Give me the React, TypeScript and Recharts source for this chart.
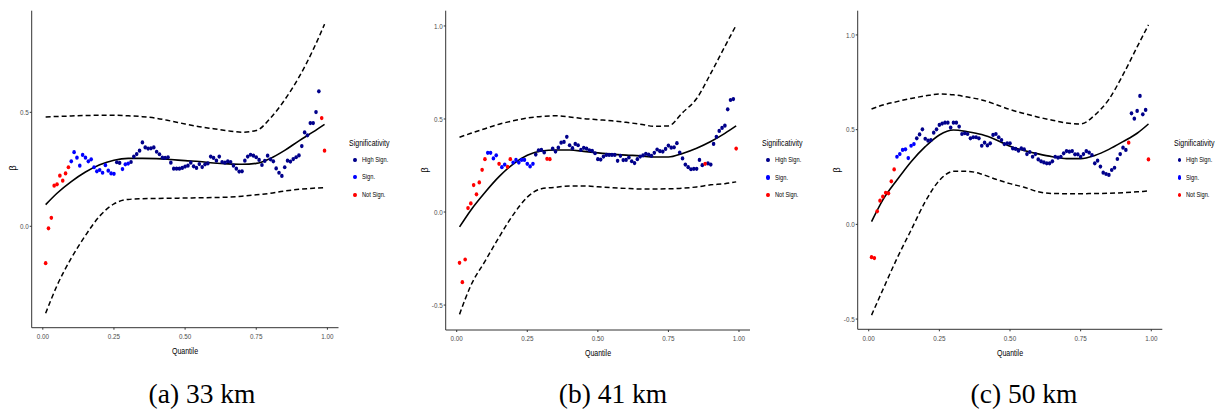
import React from "react";
import { ComposedChart, Line, Scatter, XAxis, YAxis } from "recharts";

// quantile grid of the estimated coefficients
const QUANTILES = [
  0.01, 0.02, 0.03, 0.04, 0.05, 0.06, 0.07, 0.08, 0.09, 0.1,
  0.11, 0.12, 0.13, 0.14, 0.15, 0.16, 0.17, 0.18, 0.19, 0.2,
  0.21, 0.22, 0.23, 0.24, 0.25, 0.26, 0.27, 0.28, 0.29, 0.3,
  0.31, 0.32, 0.33, 0.34, 0.35, 0.36, 0.37, 0.38, 0.39, 0.4,
  0.41, 0.42, 0.43, 0.44, 0.45, 0.46, 0.47, 0.48, 0.49, 0.5,
  0.51, 0.52, 0.53, 0.54, 0.55, 0.56, 0.57, 0.58, 0.59, 0.6,
  0.61, 0.62, 0.63, 0.64, 0.65, 0.66, 0.67, 0.68, 0.69, 0.7,
  0.71, 0.72, 0.73, 0.74, 0.75, 0.76, 0.77, 0.78, 0.79, 0.8,
  0.81, 0.82, 0.83, 0.84, 0.85, 0.86, 0.87, 0.88, 0.89, 0.9,
  0.91, 0.92, 0.93, 0.94, 0.95, 0.96, 0.97, 0.98, 0.99,
];

// x positions where the smooth fit and the bands were read
const CURVE_Q = [
  0.01, 0.05, 0.1, 0.15, 0.2, 0.25, 0.3, 0.35, 0.4, 0.45, 0.5,
  0.55, 0.6, 0.65, 0.7, 0.75, 0.8, 0.85, 0.9, 0.95, 0.99,
];

const X_TICKS = [0, 0.25, 0.5, 0.75, 1];

// H = High Sign., S = Sign., N = Not Sign. (one letter per quantile)
const SIG_A =
  "NNNNNNNNNS SSSSSSSSSS SSSSSHHSSS HHHHHHHHHH HHHHHHHHHH " +
  "HHHHHHHHHH HHHHHHHHHH HHHHHHHHHH HHHHHHHHHH HHHHHHHNN";
const SIG_B =
  "NNNNNNNNNN SSSSNSSNNS SSSSSSSHHH HNNHHHHHHH HHHHHHHHHH " +
  "HHHHHHHHHH HHHHHHHHHH HHHHHHHHHH HHHHHHHNHH HHHHHHHHN";
const SIG_C =
  "NNNNNNNNNS SSSSSSHHHH HHHHHHHHHH HHHHHHHHHH HHHHHHHHHH " +
  "HHHHHHHHHH HHHHHHHHHH HHHHHHHHHH HHHHHHHHHH HNHHHHHHN";

// (a) 33 km
const BETA_A = [
  -0.162, -0.009, 0.037, 0.178, 0.184, 0.222, 0.2, 0.232, 0.259, 0.285,
  0.325, 0.301, 0.266, 0.313, 0.301, 0.285, 0.294, 0.259, 0.241, 0.247,
  0.235, 0.268, 0.244, 0.232, 0.23, 0.281, 0.278, 0.251, 0.272, 0.275,
  0.282, 0.306, 0.317, 0.332, 0.368, 0.346, 0.341, 0.342, 0.346, 0.327,
  0.316, 0.301, 0.3, 0.303, 0.279, 0.253, 0.253, 0.253, 0.256, 0.262,
  0.266, 0.279, 0.263, 0.256, 0.273, 0.26, 0.272, 0.276, 0.306, 0.3,
  0.288, 0.306, 0.282, 0.279, 0.285, 0.282, 0.266, 0.253, 0.24, 0.241,
  0.288, 0.306, 0.314, 0.31, 0.303, 0.291, 0.269, 0.287, 0.31, 0.294,
  0.285, 0.254, 0.235, 0.221, 0.259, 0.288, 0.284, 0.295, 0.303, 0.311,
  0.352, 0.412, 0.399, 0.453, 0.453, 0.501, 0.592, 0.475, 0.332,
];
const FIT_A = [0.095, 0.145, 0.196, 0.238, 0.27, 0.29, 0.298, 0.298, 0.297, 0.293, 0.288, 0.284, 0.278, 0.274, 0.272, 0.276, 0.298, 0.333, 0.375, 0.414, 0.447];
const UPPER_A = [0.48, 0.482, 0.484, 0.486, 0.487, 0.487, 0.485, 0.481, 0.474, 0.462, 0.449, 0.437, 0.428, 0.419, 0.413, 0.42, 0.475, 0.555, 0.654, 0.775, 0.887];
const LOWER_A = [-0.382, -0.26, -0.14, -0.04, 0.045, 0.098, 0.118, 0.121, 0.122, 0.123, 0.124, 0.125, 0.126, 0.128, 0.132, 0.138, 0.145, 0.155, 0.162, 0.167, 0.17];

// (b) 41 km
const BETA_B = [
  -0.273, -0.377, -0.255, 0.021, 0.046, 0.145, 0.095, 0.159, 0.227, 0.284,
  0.318, 0.318, 0.288, 0.305, 0.259, 0.241, 0.255, 0.243, 0.284, 0.266,
  0.28, 0.266, 0.28, 0.28, 0.259, 0.245, 0.259, 0.309, 0.332, 0.334,
  0.32, 0.286, 0.284, 0.341, 0.325, 0.346, 0.373, 0.377, 0.404, 0.359,
  0.343, 0.366, 0.359, 0.334, 0.345, 0.341, 0.332, 0.329, 0.316, 0.284,
  0.282, 0.298, 0.307, 0.307, 0.307, 0.307, 0.275, 0.302, 0.279, 0.28,
  0.293, 0.273, 0.263, 0.284, 0.298, 0.304, 0.313, 0.309, 0.302, 0.318,
  0.336, 0.327, 0.325, 0.339, 0.357, 0.346, 0.348, 0.37, 0.32, 0.288,
  0.255, 0.241, 0.23, 0.232, 0.232, 0.28, 0.252, 0.259, 0.261, 0.255,
  0.366, 0.404, 0.436, 0.452, 0.464, 0.552, 0.602, 0.607, 0.341,
];
const FIT_B = [-0.08, 0.01, 0.105, 0.19, 0.258, 0.305, 0.328, 0.333, 0.333, 0.326, 0.318, 0.311, 0.306, 0.302, 0.296, 0.296, 0.315, 0.343, 0.379, 0.423, 0.463];
const UPPER_B = [0.402, 0.423, 0.448, 0.472, 0.49, 0.505, 0.514, 0.517, 0.511, 0.502, 0.496, 0.49, 0.482, 0.472, 0.461, 0.463, 0.534, 0.61, 0.745, 0.89, 1.004];
const LOWER_B = [-0.55, -0.395, -0.265, -0.135, -0.015, 0.08, 0.125, 0.133, 0.14, 0.14, 0.136, 0.131, 0.127, 0.124, 0.124, 0.125, 0.128, 0.135, 0.146, 0.152, 0.162];

// (c) 50 km
const BETA_C = [
  -0.173, -0.178, 0.069, 0.125, 0.146, 0.167, 0.164, 0.227, 0.29, 0.357,
  0.371, 0.393, 0.396, 0.35, 0.415, 0.424, 0.454, 0.475, 0.502, 0.452,
  0.442, 0.445, 0.484, 0.502, 0.525, 0.532, 0.537, 0.537, 0.511, 0.537,
  0.537, 0.516, 0.477, 0.481, 0.477, 0.454, 0.46, 0.46, 0.454, 0.415,
  0.431, 0.417, 0.428, 0.472, 0.477, 0.46, 0.445, 0.424, 0.428, 0.428,
  0.401, 0.398, 0.389, 0.401, 0.396, 0.371, 0.382, 0.357, 0.371, 0.343,
  0.333, 0.327, 0.322, 0.322, 0.333, 0.357, 0.352, 0.357, 0.375, 0.387,
  0.384, 0.387, 0.37, 0.37, 0.357, 0.371, 0.387, 0.379, 0.366, 0.322,
  0.336, 0.305, 0.273, 0.266, 0.261, 0.287, 0.299, 0.345, 0.371, 0.405,
  0.393, 0.431, 0.586, 0.558, 0.599, 0.678, 0.581, 0.604, 0.343,
];
const FIT_C = [0.014, 0.129, 0.234, 0.331, 0.41, 0.472, 0.498, 0.489, 0.474, 0.447, 0.412, 0.39, 0.372, 0.357, 0.347, 0.347, 0.364, 0.396, 0.437, 0.481, 0.53];
const UPPER_C = [0.609, 0.63, 0.648, 0.665, 0.678, 0.688, 0.684, 0.672, 0.657, 0.633, 0.606, 0.585, 0.566, 0.55, 0.535, 0.53, 0.577, 0.66, 0.79, 0.937, 1.053];
const LOWER_C = [-0.479, -0.345, -0.18, -0.03, 0.12, 0.232, 0.28, 0.28, 0.265, 0.238, 0.215, 0.196, 0.172, 0.163, 0.162, 0.162, 0.163, 0.164, 0.167, 0.172, 0.176];

const SIG_LEVELS = [
  { code: "H", label: "High Sign.", color: "#00008B" },
  { code: "S", label: "Sign.", color: "#0000FF" },
  { code: "N", label: "Not Sign.", color: "#FF0000" },
];

// no narrow face installed: squeeze Liberation Sans horizontally instead
const SANS = "'Liberation Sans', Arial, sans-serif";
const SQUEEZE = 0.8;
const CHART_H = 370;
const X_DOMAIN: [number, number] = [-0.039, 1.039];
const AXIS_COLOR = "#333333";
const TICK_FILL = "#4D4D4D";
const TICK_SIZE = 7.7;

type Geometry = {
  left: number;
  width: number;
  plotLeft: number;
  plotRight: number;
  top: number;
  bottom: number;
  yDomain: [number, number];
  yTicks: number[];
  legendX: number;
  legendY: number;
  betaX: number;
  betaY: number;
  titleY: number;
  captionX: number;
};

const PANELS = [
  {
    caption: "(a) 33 km",
    beta: BETA_A, sig: SIG_A, fit: FIT_A, upper: UPPER_A, lower: LOWER_A,
    geo: {
      left: 0, width: 405, plotLeft: 31.7, plotRight: 338.5, top: 10.7, bottom: 327.7,
      yDomain: [-0.445, 0.946], yTicks: [0, 0.5],
      legendX: 349.3, legendY: 143, betaX: 13.3, betaY: 168.3, titleY: 351, captionX: 202,
    } as Geometry,
  },
  {
    caption: "(b) 41 km",
    beta: BETA_B, sig: SIG_B, fit: FIT_B, upper: UPPER_B, lower: LOWER_B,
    geo: {
      left: 405, width: 410, plotLeft: 445.7, plotRight: 750, top: 10.7, bottom: 330,
      yDomain: [-0.634, 1.082], yTicks: [-0.5, 0, 0.5, 1],
      legendX: 762.3, legendY: 143.3, betaX: 425, betaY: 170, titleY: 353.3, captionX: 613,
    } as Geometry,
  },
  {
    caption: "(c) 50 km",
    beta: BETA_C, sig: SIG_C, fit: FIT_C, upper: UPPER_C, lower: LOWER_C,
    geo: {
      left: 815, width: 402, plotLeft: 857.7, plotRight: 1162.3, top: 10.7, bottom: 329.3,
      yDomain: [-0.554, 1.128], yTicks: [-0.5, 0, 0.5, 1],
      legendX: 1174, legendY: 143.3, betaX: 836.7, betaY: 170, titleY: 353.3, captionX: 1024,
    } as Geometry,
  },
];

function groupBySig(values: number[], sig: string) {
  const codes = sig.replace(/\s/g, "");
  const groups: Record<string, { q: number; v: number }[]> = { H: [], S: [], N: [] };
  values.forEach((v, i) => groups[codes[i]].push({ q: QUANTILES[i], v }));
  return groups;
}

function toCurve(values: number[]) {
  return CURVE_Q.map((q, i) => ({ q, v: values[i] }));
}

function dotShape(color: string) {
  return function Dot(props: any) {
    const { cx, cy } = props;
    if (cx == null || cy == null) return null;
    return <ellipse cx={cx} cy={cy} rx={1.8} ry={2.1} fill={color} />;
  };
}

function NarrowTick(props: any) {
  const { x, y, payload, textAnchor, axis } = props;
  const label = axis === "x" ? payload.value.toFixed(2) : payload.value.toFixed(1);
  return (
    <text
      x={0}
      y={0}
      transform={`translate(${x},${y}) scale(0.82,1)`}
      textAnchor={textAnchor}
      dy={axis === "x" ? "0.71em" : "0.355em"}
      fill={TICK_FILL}
      fontSize={TICK_SIZE}
      fontFamily={SANS}
    >
      {label}
    </text>
  );
}

const squeezed = (extra: React.CSSProperties, sx = SQUEEZE): React.CSSProperties => ({
  position: "absolute",
  fontFamily: SANS,
  color: "#000",
  whiteSpace: "nowrap",
  transformOrigin: "left center",
  transform: `scaleX(${sx})`,
  ...extra,
});

function SigLegend({ x, y }: { x: number; y: number }) {
  return (
    <div style={{ position: "absolute", left: 0, top: 0 }}>
      <div style={squeezed({ left: x, top: y - 7, lineHeight: "14px", fontSize: 9 }, 0.78)}>
        Significativity
      </div>
      {SIG_LEVELS.map((lvl, i) => {
        const cy = y + 16.8 + i * 17.4;
        return (
          <React.Fragment key={lvl.code}>
            <div
              style={{
                position: "absolute", left: x + 5.5 - 1.8, top: cy - 2.1,
                width: 3.6, height: 4.2, borderRadius: "50%", background: lvl.color,
              }}
            />
            <div style={squeezed({ left: x + 12.3, top: cy - 6, lineHeight: "12px", fontSize: 7.4 }, 0.77)}>
              {lvl.label}
            </div>
          </React.Fragment>
        );
      })}
    </div>
  );
}

function Panel({ panel }: { panel: (typeof PANELS)[number] }) {
  const g = panel.geo;
  const groups = groupBySig(panel.beta, panel.sig);
  const xAxisH = 30;
  const margin = {
    top: g.top,
    right: g.left + g.width - g.plotRight,
    bottom: CHART_H - g.bottom - xAxisH,
    left: 0,
  };
  const lineCommon = {
    dataKey: "v",
    type: "monotone" as const,
    stroke: "#000",
    dot: false,
    activeDot: false,
    isAnimationActive: false,
  };
  const midX = (g.plotLeft + g.plotRight) / 2;

  return (
    <>
      <div style={{ position: "absolute", left: g.left, top: 0 }}>
        <ComposedChart width={g.width} height={CHART_H} margin={margin}>
          <XAxis
            type="number"
            dataKey="q"
            domain={X_DOMAIN}
            ticks={X_TICKS}
            interval={0}
            allowDataOverflow
            height={xAxisH}
            tick={<NarrowTick axis="x" />}
            tickSize={2}
            tickMargin={4}
            axisLine={{ stroke: AXIS_COLOR }}
            tickLine={{ stroke: AXIS_COLOR }}
          />
          <YAxis
            type="number"
            dataKey="v"
            domain={g.yDomain}
            ticks={g.yTicks}
            interval={0}
            allowDataOverflow
            width={g.plotLeft - g.left}
            tick={<NarrowTick axis="y" />}
            tickSize={2}
            tickMargin={1}
            axisLine={{ stroke: AXIS_COLOR }}
            tickLine={{ stroke: AXIS_COLOR }}
          />
          {SIG_LEVELS.map((lvl) => (
            <Scatter
              key={lvl.code}
              name={lvl.label}
              data={groups[lvl.code]}
              dataKey="v"
              fill={lvl.color}
              shape={dotShape(lvl.color)}
              isAnimationActive={false}
            />
          ))}
          <Line {...lineCommon} data={toCurve(panel.upper)} strokeWidth={1.5} strokeDasharray="5 3" />
          <Line {...lineCommon} data={toCurve(panel.lower)} strokeWidth={1.5} strokeDasharray="5 3" />
          <Line {...lineCommon} data={toCurve(panel.fit)} strokeWidth={1.6} />
        </ComposedChart>
      </div>

      <div
        style={{
          position: "absolute", left: midX - 50, width: 100, top: g.titleY - 7,
          lineHeight: "14px", textAlign: "center", fontSize: 9, fontFamily: SANS,
          color: "#000", transform: "scaleX(0.78)",
        }}
      >
        Quantile
      </div>
      <div
        style={{
          position: "absolute", left: g.betaX - 10, top: g.betaY - 7, width: 20,
          lineHeight: "14px", textAlign: "center", transform: "rotate(-90deg)",
          fontSize: 9.5, fontFamily: SANS, color: "#000",
        }}
      >
        β
      </div>
      <SigLegend x={g.legendX} y={g.legendY} />
      <div
        style={{
          position: "absolute", left: g.captionX - 100, width: 200, top: 378,
          lineHeight: "32px", textAlign: "center",
          fontSize: 27.5, fontFamily: "'Liberation Serif', 'Times New Roman', serif", color: "#000",
        }}
      >
        {panel.caption}
      </div>
    </>
  );
}

export default function App() {
  return (
    <div
      style={{
        position: "absolute", left: 0, top: 0, width: 1217, height: 410,
        background: "#fff", overflow: "hidden",
      }}
    >
      {PANELS.map((p) => (
        <Panel key={p.caption} panel={p} />
      ))}
    </div>
  );
}
